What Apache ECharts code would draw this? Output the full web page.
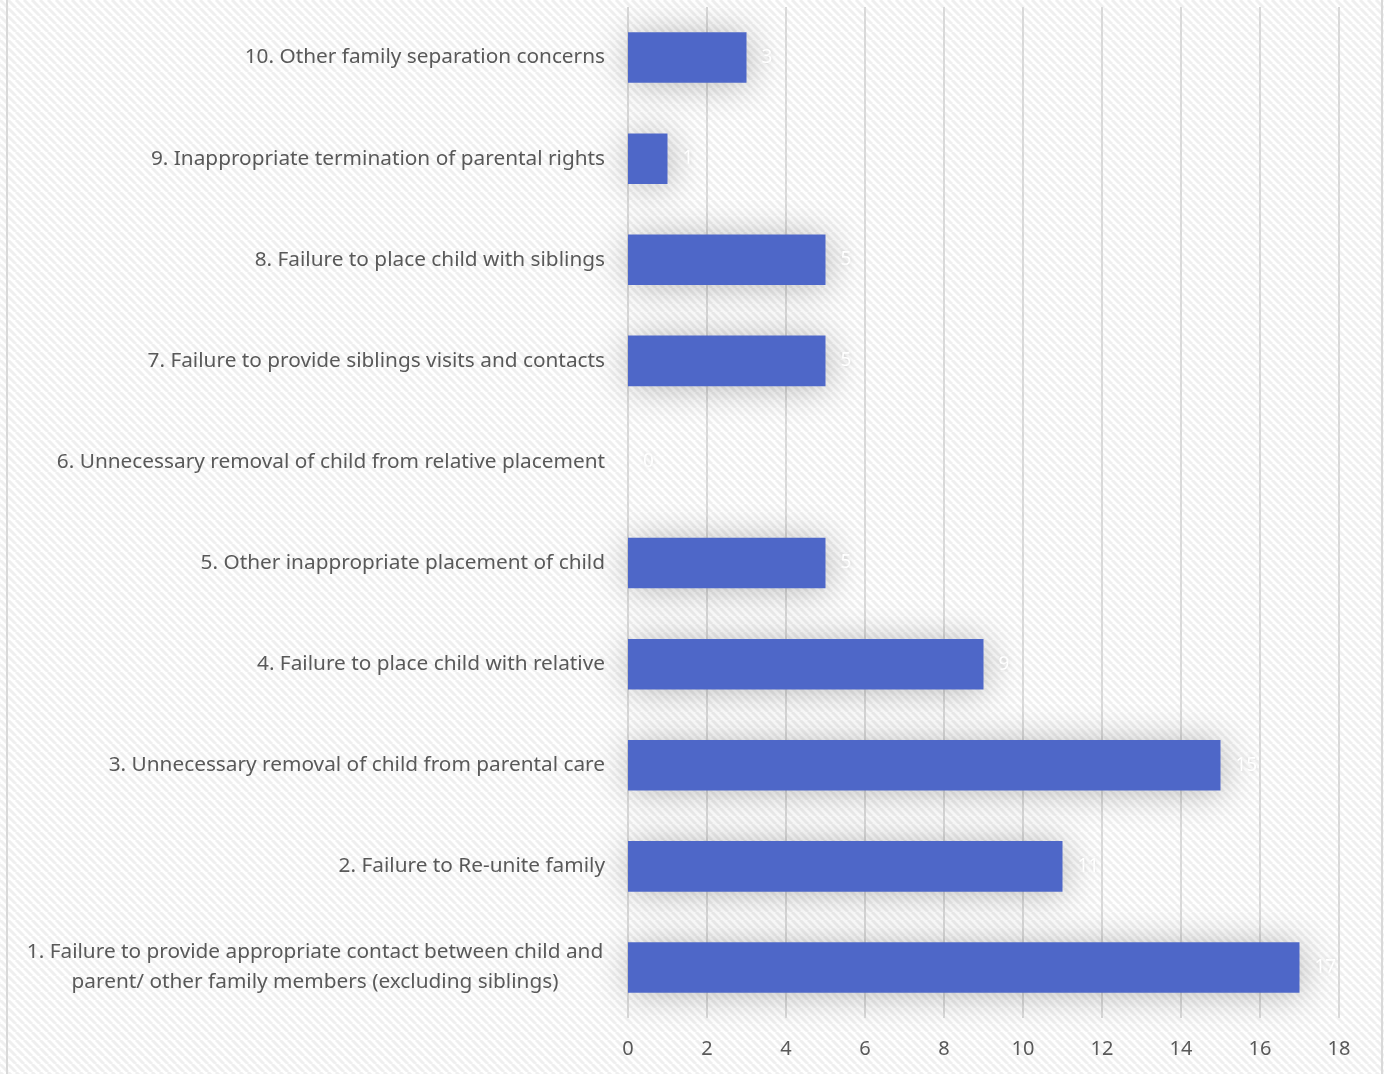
<!DOCTYPE html>
<html>
<head>
<meta charset="utf-8">
<script src="https://cdn.jsdelivr.net/npm/echarts@6/dist/echarts.min.js"></script>
<style>
  html, body { margin: 0; padding: 0; background: #ffffff; }
  #chart { width: 1384px; height: 1074px; }
</style>
</head>
<body>
<div id="chart"></div>
<script>
// Complaint categories, listed bottom-to-top as they appear on the axis
const categories = [
  '1. Failure to provide appropriate contact between child and\nparent/ other family members (excluding siblings)',
  '2. Failure to Re-unite family',
  '3. Unnecessary removal of child from parental care',
  '4. Failure to place child with relative',
  '5. Other inappropriate placement of child',
  '6. Unnecessary removal of child from relative placement',
  '7. Failure to provide siblings visits and contacts',
  '8. Failure to place child with siblings',
  '9. Inappropriate termination of parental rights',
  '10. Other family separation concerns'
];
const counts = [17, 11, 15, 9, 5, 0, 5, 5, 1, 3];
const axisMax = 18;
const axisStep = 2;

// Light diagonal hatch used as the chart background
function hatchTile() {
  const s = 8;
  const c = document.createElement('canvas');
  c.width = s; c.height = s;
  const g = c.getContext('2d');
  g.fillStyle = '#ffffff';
  g.fillRect(0, 0, s, s);
  g.strokeStyle = '#efefef';
  g.lineWidth = 3;
  for (const o of [-s, 0, s]) {
    g.beginPath();
    g.moveTo(o, 0);
    g.lineTo(o + s, s);
    g.stroke();
  }
  return c;
}

const FONT = '"Noto Sans", "Open Sans", sans-serif';
const chart = echarts.init(document.getElementById('chart'), null, { renderer: 'canvas' });

chart.setOption({
  backgroundColor: { image: hatchTile(), repeat: 'repeat' },
  animation: false,
  graphic: [
    { type: 'rect', silent: true, z: -1,
      shape: { x: 7, y: -10, width: 1375, height: 1100 },
      style: { fill: 'none', stroke: '#d9d9d9', lineWidth: 2 } }
  ],
  grid: { left: 628, right: 45, top: 7, bottom: 56, containLabel: false },
  xAxis: {
    type: 'value',
    min: 0, max: axisMax, interval: axisStep,
    axisLine: { show: false },
    axisTick: { show: false },
    splitLine: { show: true, lineStyle: { color: '#d9d9d9', width: 2 } },
    axisLabel: { color: '#595959', fontSize: 20, fontFamily: FONT, margin: 21 }
  },
  yAxis: {
    type: 'category',
    data: categories,
    axisLine: { show: false },
    axisTick: { show: false },
    axisLabel: {
      color: '#595959', fontSize: 20.8, fontFamily: FONT, margin: 23, lineHeight: 30,
      formatter: function (v) {
        if (v.indexOf('\n') >= 0) {
          return v.split('\n').map(function (s) { return '{c|' + s + '}'; }).join('\n');
        }
        return v;
      },
      rich: {
        c: { width: 580, align: 'center', color: '#595959', fontSize: 20.8, fontFamily: FONT, lineHeight: 30 }
      }
    }
  },
  series: [{
    type: 'bar',
    data: counts,
    barCategoryGap: '50%',
    itemStyle: {
      color: '#4e67c8',
      shadowColor: 'rgba(0,0,0,0.25)',
      shadowBlur: 34,
      shadowOffsetX: 2,
      shadowOffsetY: 2
    },
    label: {
      show: true,
      position: 'right',
      distance: 15,
      color: '#ffffff',
      fontSize: 19,
      fontFamily: FONT,
      textShadowColor: 'rgba(0,0,0,0.12)',
      textShadowBlur: 4
    }
  }]
});
</script>
</body>
</html>
